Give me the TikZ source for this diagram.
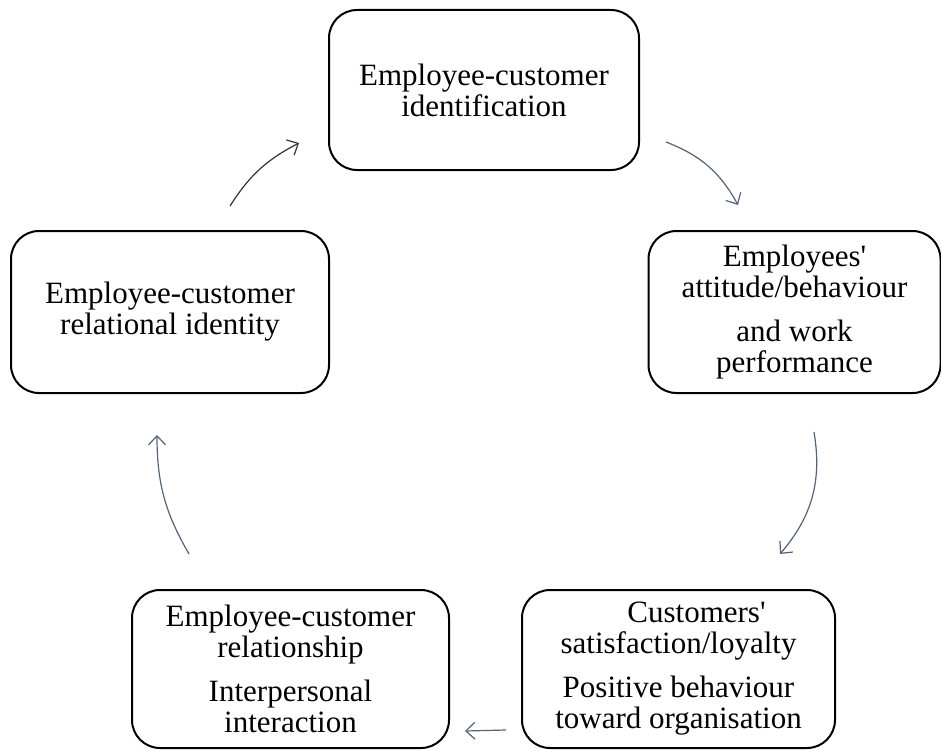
\documentclass[tikz,border=0pt]{standalone}
\usepackage{fontspec}
\setmainfont{Liberation Serif}
\usetikzlibrary{
    arrows.meta,
    calc
}
\definecolor{slate}{RGB}{84, 98, 122}
\definecolor{darkslate}{RGB}{50, 52, 60}
\tikzset {
    box/.style = {
        draw, line width = 2pt, rounded corners = 28pt,
        align = center, inner sep = 4pt,
        font = \fontsize{31}{31}\selectfont
    },
    cycle arrow/.style = {
        draw = slate, line width = 1.2pt,
        arrows = {-Straight Barb[length = 9pt, width = 17pt]}
    },
}

\begin{document}
\begin{tikzpicture}[x = 1pt, y = -1pt]
    \useasboundingbox (0, 0) rectangle (941, 749);
    % boxes
    \node (ident) [box, minimum width = 310pt, minimum height = 160pt] at (484, 90)
        {Employee-customer\\identification};
    \node (attitude) [box, minimum width = 292pt, minimum height = 162pt] at (794.5, 312)
        {Employees\textquotesingle\\attitude/behaviour\\[13pt]and work\\performance};
    \node (satisf) [box, minimum width = 313pt, minimum height = 158pt] at (678.5, 669)
        {\hspace*{36pt}Customers\textquotesingle\\satisfaction/loyalty\\[13pt]Positive behaviour\\toward organisation};
    \node (relation) [box, minimum width = 317pt, minimum height = 158pt] at (290.5, 669)
        {Employee-customer\\relationship\\[13pt]Interpersonal\\interaction};
    \node (relid) [box, minimum width = 318pt, minimum height = 162pt] at (170, 312)
        {Employee-customer\\relational identity};
    % arrow ends
    \coordinate (a1s) at (666, 142);
    \coordinate (a1e) at (738, 205);
    \coordinate (a2s) at (814, 432);
    \coordinate (a2e) at (780, 554);
    \coordinate (a3s) at (506, 730);
    \coordinate (a3e) at (465, 731);
    \coordinate (a4s) at (189, 554);
    \coordinate (a4e) at (157, 435);
    \coordinate (a5s) at (230, 206);
    \coordinate (a5e) at (299, 143);
    % cycle
    \draw [cycle arrow] (a1s) to [bend left = 20] (a1e);
    \draw [cycle arrow] (a2s) to [bend left = 25] (a2e);
    \draw [cycle arrow] (a3s) -- (a3e);
    \draw [cycle arrow] (a4s) to [bend left = 15] (a4e);
    \draw [cycle arrow, draw = darkslate] (a5s) to [bend left = 15] (a5e);
\end{tikzpicture}
\end{document}
